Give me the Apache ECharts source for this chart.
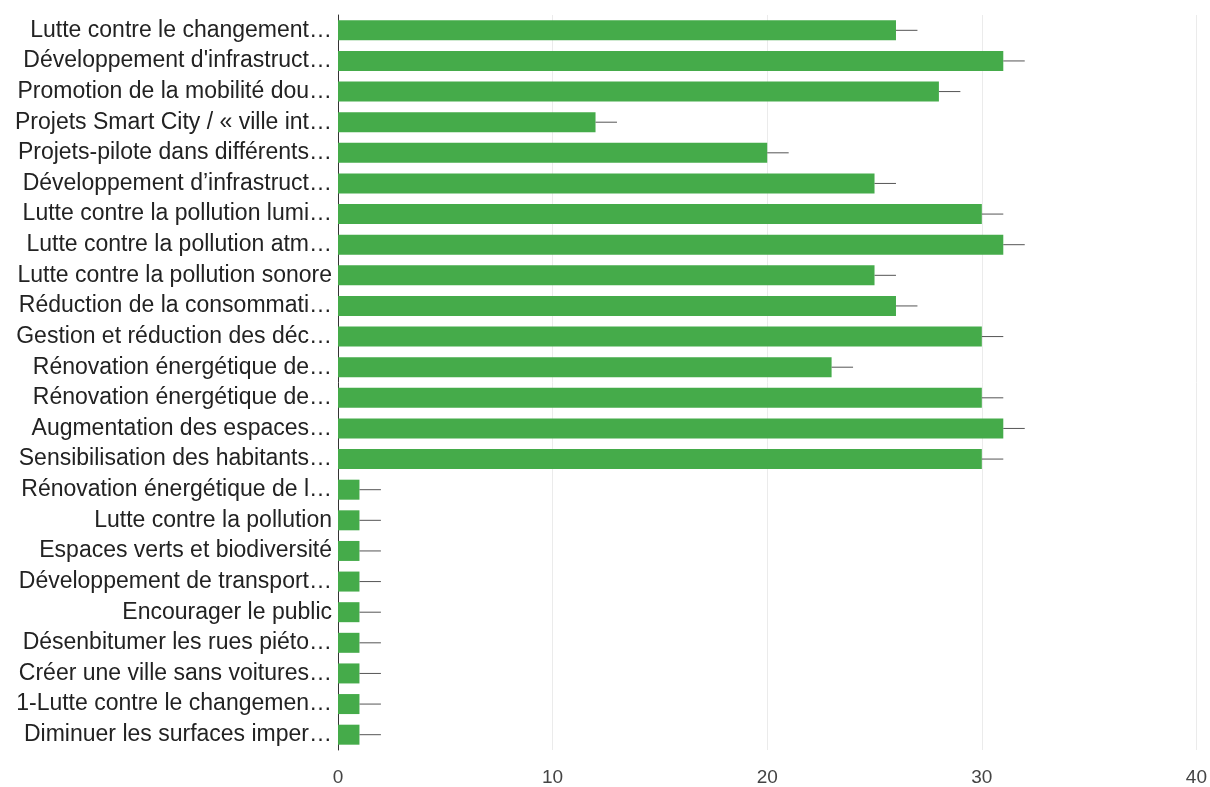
<!DOCTYPE html>
<html>
<head>
<meta charset="utf-8">
<style>
    html, body { margin: 0; padding: 0; background: #fff; }
    #chart { width: 1210px; height: 787px; }
</style>
<script src="https://cdn.jsdelivr.net/npm/echarts@6/dist/echarts.min.js"></script>
</head>
<body>
<div id="chart"></div>
<script>
// labels as shown (already cut off in the source chart)
var categories = [
    'Lutte contre le changement…',
    "Développement d'infrastruct…",
    'Promotion de la mobilité dou…',
    'Projets Smart City / « ville int…',
    'Projets-pilote dans différents…',
    'Développement d’infrastruct…',
    'Lutte contre la pollution lumi…',
    'Lutte contre la pollution atm…',
    'Lutte contre la pollution sonore',
    'Réduction de la consommati…',
    'Gestion et réduction des déc…',
    'Rénovation énergétique de…',
    'Rénovation énergétique de…',
    'Augmentation des espaces…',
    'Sensibilisation des habitants…',
    'Rénovation énergétique de l…',
    'Lutte contre la pollution',
    'Espaces verts et biodiversité',
    'Développement de transport…',
    'Encourager le public',
    'Désenbitumer les rues piéto…',
    'Créer une ville sans voitures…',
    '1-Lutte contre le changemen…',
    'Diminuer les surfaces imper…'
];
var counts = [26, 31, 28, 12, 20, 25, 30, 31, 25, 26, 30, 23, 30, 31, 30, 1, 1, 1, 1, 1, 1, 1, 1, 1];
// little line drawn after each bar
var errors = [1, 1, 1, 1, 1, 1, 1, 1, 1, 1, 1, 1, 1, 1, 1, 1, 1, 1, 1, 1, 1, 1, 1, 1];
var xTicks = { min: 0, max: 40, step: 10 };

var chart = echarts.init(document.getElementById('chart'));

var whiskerData = [];
for (var i = 0; i < counts.length; i++) {
    whiskerData.push([counts[i], i, errors[i]]);
}

chart.setOption({
    backgroundColor: '#fff',
    animation: false,
    grid: {
        left: 338,
        right: 13,
        top: 15,
        bottom: 36
    },
    xAxis: {
        type: 'value',
        min: xTicks.min,
        max: xTicks.max,
        interval: xTicks.step,
        axisLine: { show: false },
        axisTick: { show: false },
        axisLabel: {
            color: '#444',
            fontSize: 19,
            fontFamily: 'Liberation Sans, Arial, sans-serif',
            margin: 18
        },
        splitLine: {
            show: true,
            lineStyle: { color: '#ebebeb', width: 1 }
        }
    },
    yAxis: {
        type: 'category',
        inverse: true,
        data: categories,
        axisLine: { show: true, lineStyle: { color: '#333', width: 1 } },
        axisTick: { show: false },
        axisLabel: {
            color: '#222',
            fontSize: 23,
            fontFamily: 'Liberation Sans, Arial, sans-serif',
            margin: 6
        }
    },
    series: [
        {
            type: 'bar',
            data: counts,
            barWidth: 20,
            itemStyle: { color: '#45ab4a' }
        },
        {
            type: 'custom',
            data: whiskerData,
            encode: { x: 0, y: 1 },
            z: 3,
            renderItem: function (params, api) {
                var start = api.coord([api.value(0), api.value(1)]);
                var end = api.coord([api.value(0) + api.value(2), api.value(1)]);
                return {
                    type: 'line',
                    shape: { x1: start[0], y1: start[1], x2: end[0], y2: end[1] },
                    style: { stroke: '#555', lineWidth: 1 }
                };
            }
        }
    ]
});
</script>
</body>
</html>
